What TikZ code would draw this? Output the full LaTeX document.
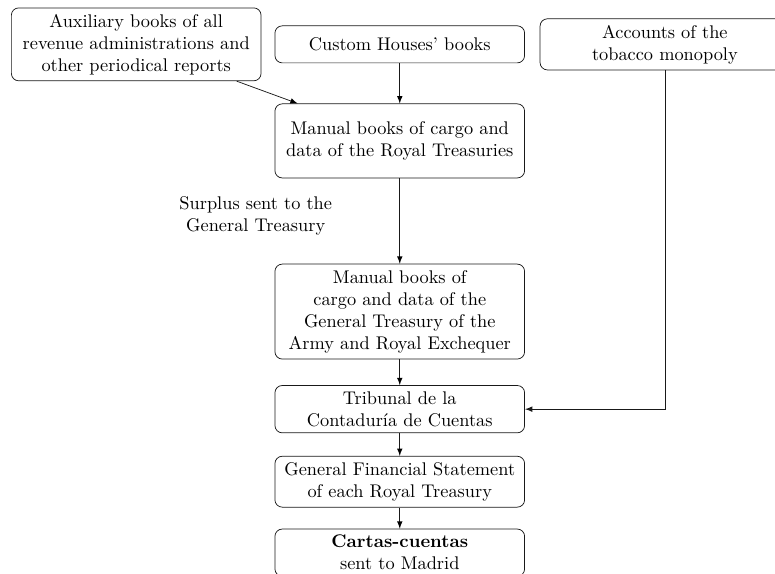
\documentclass[tikz,border=0pt]{standalone}
\begin{document}
\begin{tikzpicture}[->,>=latex]
        \tikzstyle{book}=[rectangle,rounded corners=4pt,draw=black!90,text width=4.55cm,align=center,inner sep=0.333em]
        \tikzstyle{edge}=[draw=black!90]

        \useasboundingbox (0,0) rectangle (14.85,-10.98);

        \node [book] (aux) at (2.61,-0.85) {Auxiliary books of all\\revenue administrations and\\other periodical reports};
        \node [book,minimum height=0.71cm] (custom) at (7.66,-0.85) {Custom Houses' books};
        \node [book] (tobacco) at (12.74,-0.85) {Accounts of the\\tobacco monopoly};
        \node [book,minimum height=1.42cm] (royal) at (7.66,-2.70) {Manual books of cargo and\\data of the Royal Treasuries};
        \node [book] (general) at (7.66,-5.97) {Manual books of\\cargo and data of the\\General Treasury of the\\Army and Royal Exchequer};
        \node [book] (tribunal) at (7.66,-7.84) {Tribunal de la\\Contadur\'ia de Cuentas};
        \node [book] (statement) at (7.66,-9.23) {General Financial Statement\\of each Royal Treasury};
        \node [book,anchor=north] (cartas) at (7.66,-10.13) {\textbf{Cartas-cuentas}\\sent to Madrid};

        \node [align=center] (surplus) at (4.90,-4.14) {Surplus sent to the\\General Treasury};

        \path[edge] (aux) edge (royal);
        \path[edge] (custom) edge (royal);
        \path[edge] (royal) edge (general);
        \path[edge] (general) edge (tribunal);
        \path[edge] (tobacco) |- (tribunal);
        \path[edge] (tribunal) edge (statement);
        \path[edge] (statement) edge (cartas);
\end{tikzpicture}
\end{document}
